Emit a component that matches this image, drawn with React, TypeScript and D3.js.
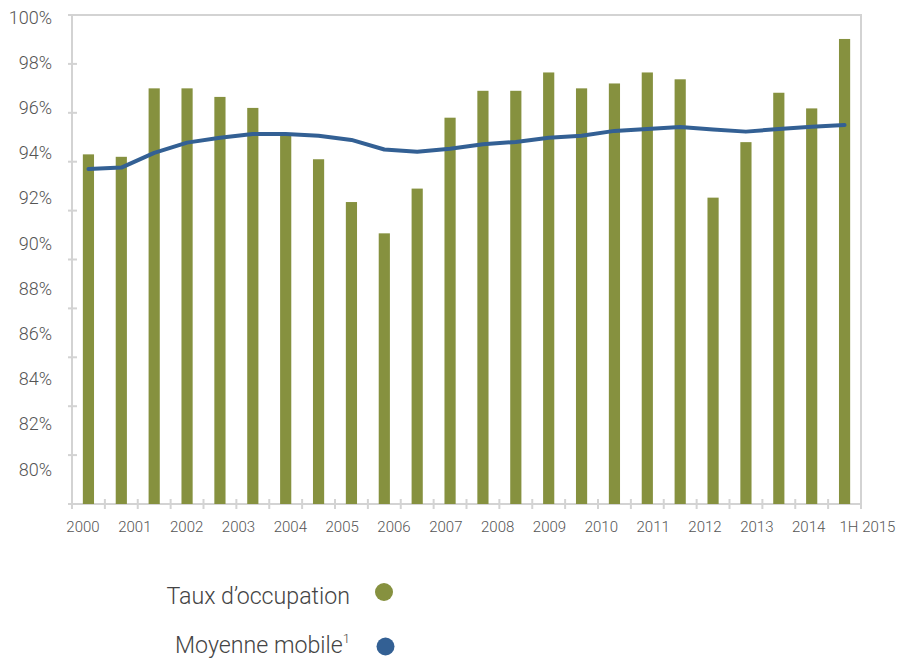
import * as d3 from 'd3'

// 24 periods plotted, axis carries 16 year labels (as in source)
const periods = ['P01', 'P02', 'P03', 'P04', 'P05', 'P06', 'P07', 'P08', 'P09', 'P10', 'P11', 'P12',
  'P13', 'P14', 'P15', 'P16', 'P17', 'P18', 'P19', 'P20', 'P21', 'P22', 'P23', 'P24']
const occupancy = [94.3, 94.2, 97.0, 97.0, 96.65, 96.2, 95.1, 94.1, 92.35, 91.07, 92.9, 95.8,
  96.9, 96.9, 97.65, 97.0, 97.2, 97.65, 97.37, 92.53, 94.8, 96.82, 96.18, 99.02]
const movingAvg = [93.7, 93.76, 94.36, 94.78, 94.98, 95.13, 95.13, 95.06, 94.89, 94.5, 94.41, 94.53,
  94.71, 94.81, 94.98, 95.06, 95.26, 95.34, 95.42, 95.32, 95.23, 95.34, 95.43, 95.5]
const yearLabels = ['2000', '2001', '2002', '2003', '2004', '2005', '2006', '2007', '2008', '2009',
  '2010', '2011', '2012', '2013', '2014', '1H 2015']
const yTicks = [80, 82, 84, 86, 88, 90, 92, 94, 96, 98, 100]

const W = 898
const H = 659
const left = 72, right = 861, top = 15, bottom = 504
const GREEN = '#86913f'
const BLUE = '#336094'
const AXIS = '#d3d3d3'
const FONT = 'Roboto, sans-serif'

export default function App() {
  const x = d3.scaleBand<string>().domain(periods).range([left, right]).paddingInner(0.66).paddingOuter(0.33)
  const y = d3.scaleLinear().domain([80, 100]).range([bottom, top])
  // printed tick labels sit slightly off the tick marks in the source
  const yLab = d3.scaleLinear().domain([80, 100]).range([469, 17])
  const xLab = d3.scalePoint<string>().domain(yearLabels).range([83, 860.5])
  const xTick = d3.scaleLinear().domain([0, periods.length]).range([left, right])

  const line = d3.line<number>()
    .x((_, i) => (x(periods[i]) ?? 0) + x.bandwidth() / 2)
    .y(d => y(d))

  return (
    <svg width={W} height={H} style={{ position: 'absolute', left: 0, top: 0, background: '#fff' }}
      fontFamily={FONT}>
      {/* frame */}
      <rect x={left} y={top} width={right - left} height={bottom - top} fill="none" stroke={AXIS} strokeWidth={2} />
      {yTicks.map(t => (
        <line key={'yt' + t} x1={left - 4} x2={left + 5} y1={y(t)} y2={y(t)} stroke={AXIS} strokeWidth={2} />
      ))}
      {d3.range(periods.length + 1).map(i => (
        <line key={'xt' + i} x1={xTick(i)} x2={xTick(i)} y1={bottom - 5} y2={bottom + 5} stroke={AXIS} strokeWidth={2} />
      ))}
      {yTicks.map(t => (
        <text key={'yl' + t} x={52} y={yLab(t)} textAnchor="end" dominantBaseline="central"
          fontSize={18} fontWeight={300} fill="#555">{t}%</text>
      ))}
      {yearLabels.map((l, i) => (
        <text key={'xl' + l} x={xLab(l)} dx={i === yearLabels.length - 1 ? 7 : 0} y={527} textAnchor="middle"
          dominantBaseline="central" fontSize={15} fontWeight={300} fill="#555">{l}</text>
      ))}
      {/* bars */}
      {occupancy.map((v, i) => (
        <rect key={'b' + i} x={x(periods[i])} y={y(v)} width={x.bandwidth()} height={bottom - y(v)} fill={GREEN} />
      ))}
      {/* moving average */}
      <path d={line(movingAvg) ?? ''} fill="none" stroke={BLUE} strokeWidth={4} strokeLinejoin="round" strokeLinecap="round" />
      {/* legend */}
      <text x={350} y={604} textAnchor="end" fontSize={23.2} fontWeight={300} fill="#444">Taux d’occupation</text>
      <circle cx={384} cy={592} r={9} fill={GREEN} />
      <text x={350} y={653} textAnchor="end" fontSize={23.2} fontWeight={300} fill="#444">
        Moyenne mobile<tspan fontSize={13} dy={-10}>1</tspan>
      </text>
      <circle cx={385.5} cy={646.5} r={9} fill={BLUE} />
    </svg>
  )
}
